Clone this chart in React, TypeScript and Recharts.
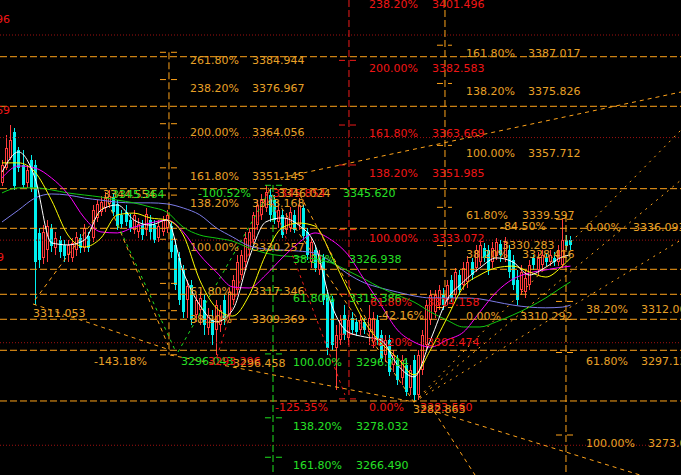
import React from "react";
import { ComposedChart, Bar, Line, XAxis, YAxis, ReferenceLine, ReferenceDot } from "recharts";

const W = 681;
const H = 475;
const X_DOMAIN: [number, number] = [-0.485, 164.81];
const Y_DOMAIN: [number, number] = [3261.3, 3400.24];

// ---------- candle data (price) ----------
const opens = [
  3346.7, 3351.1, 3354.0, 3361.6, 3356.4, 3352.0, 3346.7, 3353.4, 3352.0, 3332.1,
  3324.8, 3327.1, 3333.6, 3327.7, 3330.0, 3328.6, 3325.7, 3324.8, 3327.1, 3330.6,
  3327.7, 3331.2, 3330.6, 3336.5, 3338.2, 3339.4, 3340.6, 3342.3, 3340.6, 3337.4,
  3338.2, 3335.9, 3333.0, 3332.4, 3334.4, 3333.0, 3335.9, 3334.4, 3330.6, 3332.4,
  3333.6, 3334.1, 3328.6, 3324.8, 3321.3, 3312.5, 3316.9, 3308.1, 3309.6, 3312.5,
  3304.3, 3306.6, 3303.7, 3305.2, 3312.5, 3308.1, 3312.5, 3315.4, 3319.8, 3323.6,
  3327.1, 3330.0, 3334.4, 3337.4, 3339.4, 3343.2, 3341.7, 3335.3, 3337.4, 3333.0,
  3333.6, 3337.4, 3334.4, 3339.4, 3332.4, 3323.6, 3327.1, 3321.3, 3324.8, 3314.0,
  3312.5, 3298.5, 3300.8, 3308.1, 3301.4, 3307.2, 3306.1, 3303.7, 3306.1, 3303.1,
  3300.2, 3306.6, 3302.3, 3296.4, 3300.8, 3293.5, 3294.9, 3289.7, 3293.5, 3286.8,
  3294.9, 3284.7, 3292.0, 3299.3, 3306.6, 3309.0, 3311.0, 3313.9, 3312.5, 3318.3,
  3313.9, 3319.8, 3316.9, 3317.8, 3323.6, 3321.9, 3323.6, 3327.7, 3327.1, 3323.6,
  3325.4, 3328.9, 3324.8, 3327.1, 3324.2, 3318.3, 3315.4, 3314.8, 3316.9, 3324.8,
  3321.3, 3322.7, 3324.8, 3323.6, 3324.8, 3323.6, 3322.7, 3330.0, 3330.0,
];
const highs = [
  3353.4, 3360.8, 3363.7, 3362.8, 3357.2, 3356.4, 3352.0, 3354.9, 3353.4, 3333.6,
  3334.4, 3335.9, 3334.7, 3332.4, 3331.2, 3330.0, 3330.0, 3330.6, 3332.4, 3331.8,
  3334.7, 3332.4, 3340.3, 3341.7, 3342.9, 3344.1, 3344.7, 3343.8, 3341.7, 3338.8,
  3340.3, 3337.6, 3338.8, 3336.5, 3335.9, 3339.4, 3337.4, 3335.9, 3335.9, 3337.1,
  3338.8, 3335.3, 3330.0, 3326.5, 3322.7, 3318.3, 3318.3, 3314.0, 3314.8, 3314.0,
  3310.2, 3309.6, 3312.5, 3311.0, 3314.0, 3316.0, 3319.8, 3325.7, 3327.1, 3332.4,
  3333.6, 3338.2, 3341.7, 3343.5, 3346.1, 3345.3, 3343.2, 3340.3, 3338.8, 3337.9,
  3339.7, 3338.8, 3342.3, 3340.3, 3333.6, 3330.6, 3328.6, 3327.1, 3325.9, 3315.4,
  3313.7, 3305.2, 3308.1, 3311.0, 3308.1, 3309.0, 3307.2, 3308.1, 3307.2, 3311.0,
  3309.0, 3308.1, 3303.7, 3302.3, 3302.3, 3297.9, 3296.4, 3296.4, 3294.9, 3293.5,
  3296.4, 3297.9, 3303.7, 3312.5, 3315.4, 3315.4, 3316.9, 3316.0, 3318.3, 3319.8,
  3321.9, 3321.3, 3323.6, 3325.4, 3324.8, 3328.6, 3330.0, 3329.2, 3328.6, 3329.5,
  3330.6, 3330.0, 3330.9, 3328.6, 3325.7, 3321.3, 3322.7, 3321.3, 3324.2, 3325.7,
  3326.5, 3327.1, 3325.9, 3327.1, 3326.5, 3328.6, 3336.5, 3331.5, 3331.2,
];
const lows = [
  3345.8, 3350.5, 3353.4, 3344.7, 3349.9, 3345.3, 3345.3, 3344.1, 3311.1, 3321.9,
  3323.0, 3323.6, 3326.5, 3325.7, 3324.8, 3323.6, 3323.6, 3323.6, 3325.4, 3326.2,
  3326.5, 3326.5, 3329.5, 3335.3, 3337.1, 3338.2, 3339.4, 3337.1, 3333.0, 3333.6,
  3334.1, 3332.4, 3331.8, 3330.6, 3330.0, 3331.2, 3330.0, 3329.2, 3329.5, 3331.2,
  3332.1, 3324.8, 3315.4, 3311.0, 3307.2, 3307.2, 3305.2, 3306.1, 3305.2, 3302.3,
  3302.3, 3299.3, 3296.4, 3303.1, 3305.2, 3306.6, 3311.0, 3314.0, 3318.3, 3321.9,
  3325.4, 3328.9, 3333.0, 3335.9, 3338.2, 3335.3, 3334.7, 3333.6, 3330.6, 3331.8,
  3332.4, 3332.1, 3333.0, 3330.0, 3324.2, 3321.9, 3320.7, 3319.8, 3311.0, 3296.4,
  3297.9, 3286.2, 3299.3, 3300.8, 3299.3, 3302.3, 3302.0, 3302.3, 3302.5, 3299.3,
  3298.5, 3299.3, 3294.4, 3294.4, 3290.3, 3291.4, 3287.6, 3287.6, 3284.4, 3284.7,
  3282.9, 3283.2, 3290.6, 3297.9, 3305.2, 3307.2, 3309.6, 3309.6, 3311.0, 3311.9,
  3312.5, 3313.9, 3315.4, 3316.0, 3318.3, 3320.7, 3322.4, 3323.6, 3319.8, 3321.9,
  3324.2, 3323.6, 3323.6, 3318.9, 3315.4, 3311.0, 3313.9, 3313.1, 3315.4, 3321.3,
  3319.8, 3321.3, 3322.4, 3322.4, 3322.4, 3322.4, 3321.9, 3327.1, 3327.1,
];
const closes = [
  3352.0, 3357.0, 3359.3, 3345.8, 3351.1, 3346.1, 3350.5, 3345.3, 3323.6, 3324.2,
  3332.4, 3334.1, 3328.3, 3330.6, 3326.5, 3325.4, 3328.6, 3329.2, 3330.9, 3327.7,
  3333.6, 3327.7, 3338.8, 3340.6, 3341.2, 3342.3, 3342.9, 3338.2, 3334.1, 3334.7,
  3335.3, 3333.6, 3337.4, 3334.7, 3331.5, 3337.6, 3332.4, 3330.0, 3334.1, 3335.9,
  3337.4, 3326.5, 3316.9, 3312.5, 3309.0, 3316.6, 3306.6, 3312.5, 3313.1, 3305.2,
  3308.1, 3302.3, 3311.0, 3309.6, 3307.2, 3314.8, 3318.3, 3323.6, 3325.7, 3330.6,
  3332.4, 3337.4, 3340.3, 3341.7, 3344.1, 3337.4, 3335.9, 3338.8, 3331.5, 3336.5,
  3338.2, 3333.0, 3340.3, 3331.2, 3325.7, 3329.5, 3321.9, 3325.7, 3312.5, 3298.5,
  3299.3, 3302.3, 3306.6, 3302.3, 3306.6, 3303.7, 3303.1, 3306.6, 3303.7, 3307.2,
  3307.2, 3300.8, 3295.5, 3300.8, 3291.4, 3296.4, 3289.1, 3294.9, 3285.6, 3292.0,
  3284.7, 3296.4, 3302.3, 3311.0, 3313.9, 3313.9, 3315.4, 3311.0, 3316.9, 3313.1,
  3320.7, 3315.4, 3321.9, 3323.6, 3319.8, 3327.1, 3328.6, 3324.8, 3321.3, 3327.7,
  3329.5, 3325.7, 3329.5, 3320.7, 3316.9, 3312.5, 3320.7, 3318.9, 3322.7, 3322.7,
  3324.8, 3325.7, 3323.6, 3325.7, 3323.6, 3327.1, 3330.0, 3328.3, 3328.6,
];

// ---------- moving averages, read at every 4th bar ----------
const maIdx = [0, 4, 8, 12, 16, 20, 24, 28, 32, 36, 40, 44, 48, 52, 56, 60, 64, 68, 72, 76, 80, 84, 88, 92, 96, 100, 104, 108, 112, 116, 120, 124, 128, 132, 136, 138];
const ma5 = [3349.9, 3355.8, 3348.2, 3329.2, 3328.6, 3330.0, 3338.8, 3340.3, 3335.9, 3334.4, 3335.9, 3320.7, 3311.0, 3306.1, 3309.6, 3324.8, 3335.3, 3336.5, 3334.4, 3328.6, 3311.0, 3303.1, 3301.7, 3300.8, 3293.5, 3290.0, 3300.8, 3312.5, 3317.8, 3321.9, 3324.8, 3323.6, 3319.8, 3322.1, 3325.1, 3325.7];
const ma10 = [3352.6, 3352.6, 3349.9, 3341.7, 3331.5, 3328.0, 3330.6, 3337.4, 3337.9, 3336.5, 3335.9, 3331.5, 3318.3, 3310.2, 3307.8, 3313.9, 3325.7, 3333.6, 3335.0, 3334.1, 3325.4, 3315.4, 3306.1, 3299.9, 3295.5, 3290.6, 3297.9, 3307.2, 3316.3, 3319.8, 3321.9, 3322.4, 3320.7, 3319.2, 3322.4, 3324.8];
const ma20 = [3348.2, 3351.7, 3351.1, 3348.2, 3343.5, 3336.5, 3332.4, 3332.1, 3333.8, 3335.0, 3335.9, 3332.4, 3325.7, 3320.7, 3316.3, 3316.0, 3319.8, 3324.8, 3329.2, 3332.1, 3330.0, 3325.7, 3318.3, 3311.0, 3303.7, 3300.2, 3298.7, 3300.8, 3303.1, 3309.0, 3314.8, 3318.6, 3320.4, 3321.3, 3322.1, 3322.4];
const ma30 = [3343.8, 3345.3, 3345.3, 3344.7, 3343.8, 3343.2, 3342.6, 3341.7, 3340.9, 3339.7, 3338.2, 3333.8, 3331.5, 3330.6, 3329.7, 3327.7, 3326.2, 3325.4, 3325.1, 3324.5, 3323.3, 3321.0, 3318.6, 3316.0, 3313.9, 3311.9, 3309.0, 3306.6, 3304.6, 3304.6, 3306.1, 3308.1, 3310.4, 3313.1, 3316.3, 3317.8];
const ma60 = [3335.3, 3338.8, 3342.3, 3343.5, 3343.2, 3342.3, 3341.7, 3341.1, 3340.9, 3340.9, 3340.6, 3339.4, 3337.4, 3333.6, 3330.9, 3328.3, 3327.4, 3327.1, 3326.8, 3326.2, 3323.6, 3320.1, 3317.5, 3316.0, 3314.8, 3313.7, 3313.1, 3313.1, 3313.1, 3312.8, 3311.9, 3311.0, 3310.4, 3310.2, 3310.4, 3311.0];

// ---------- annotation levels ----------
const gridPrices = [3390, 3360, 3330, 3300, 3270];
const levelPrices = [3383.65, 3369.15, 3345.05, 3333.46, 3321.47, 3314.16, 3306.85, 3297.78, 3282.95];

const fibLeftLevels = [3384.944, 3376.967, 3364.056, 3351.145, 3343.168, 3330.257, 3317.346, 3309.369, 3296.458];
const fibRedLevels = [3382.583, 3363.669, 3351.985, 3333.072, 3314.158, 3302.474, 3283.56];
const fibMidLevels = [3387.017, 3375.826, 3357.712, 3339.597, 3328.416, 3310.292];
const fibRightLevels = [3336.093, 3312.069, 3297.131, 3273.0];
const fibGreenLevels = [3346.04, 3326.938, 3315.386, 3296.714, 3278.032, 3266.49];

// [x (bar index), price, text, colour key, anchor]
const labels: [number, number, string, string, string?][] = [
  [45.63, 3384.944, "261.80%", "o"], [60.68, 3384.944, "3384.944", "o"],
  [45.63, 3376.967, "238.20%", "o"], [60.68, 3376.967, "3376.967", "o"],
  [45.63, 3364.056, "200.00%", "o"], [60.68, 3364.056, "3364.056", "o"],
  [45.63, 3351.145, "161.80%", "o"], [60.68, 3351.145, "3351.145", "o"],
  [45.63, 3343.168, "138.20%", "o"], [60.68, 3343.168, "3343.168", "o"],
  [45.63, 3330.257, "100.00%", "o"], [60.68, 3330.257, "3330.257", "o"],
  [45.63, 3317.346, "61.80%", "o"], [60.68, 3317.346, "3317.346", "o"],
  [45.63, 3309.369, "38.20%", "o"], [60.68, 3309.369, "3309.369", "o"],

  [89.08, 3401.496, "238.20%", "r"], [104.37, 3401.496, "3401.496", "r"],
  [89.08, 3382.583, "200.00%", "r"], [104.37, 3382.583, "3382.583", "r"],
  [89.08, 3363.669, "161.80%", "r"], [104.37, 3363.669, "3363.669", "r"],
  [89.08, 3351.985, "138.20%", "r"], [104.37, 3351.985, "3351.985", "r"],
  [89.08, 3333.072, "100.00%", "r"], [104.37, 3333.072, "3333.072", "r"],

  [112.62, 3387.017, "161.80%", "o"], [127.67, 3387.017, "3387.017", "o"],
  [112.62, 3375.826, "138.20%", "o"], [127.67, 3375.826, "3375.826", "o"],
  [112.62, 3357.712, "100.00%", "o"], [127.67, 3357.712, "3357.712", "o"],
  [112.62, 3339.597, "61.80%", "o"], [126.21, 3339.597, "3339.597", "o"],
  [120.87, 3336.39, "-84.50%", "o"],
  [141.75, 3336.093, "0.00%", "o"], [153.16, 3336.093, "3336.093", "o"],
  [121.36, 3330.83, "3330.283", "o"],
  [112.62, 3328.416, "38.20%", "o"], [126.21, 3328.416, "3328.416", "o"],
  [125.73, 3310.292, "3310.292", "o"], [112.62, 3310.292, "0.00%", "o"],
  [141.75, 3312.069, "38.20%", "o"], [155.1, 3312.069, "3312.069", "o"],
  [141.75, 3297.131, "61.80%", "o"], [155.1, 3297.131, "3297.131", "o"],
  [141.75, 3273.0, "100.00%", "o"], [156.8, 3273.0, "3273.044", "o"],

  [24.51, 3345.75, "3344.554", "o"], [26.7, 3345.75, "3345.364", "g"],
  [47.57, 3346.04, "-100.52%", "g"],
  [65.78, 3346.04, "3345.854", "r"], [67.0, 3346.04, "3346.024", "o"],
  [82.77, 3346.04, "3345.620", "g"],
  [70.63, 3326.938, "38.20%", "g"], [84.22, 3326.938, "3326.938", "g"],
  [70.63, 3315.386, "61.80%", "g"], [84.22, 3315.386, "3315.386", "g"],
  [89.32, 3314.158, "61.80%", "r"], [103.16, 3314.158, "3314.158", "r"],
  [91.26, 3310.36, "-42.16%", "o"],
  [89.32, 3302.474, "38.20%", "r"], [103.16, 3302.474, "3302.474", "r"],
  [7.52, 3311.053, "3311.053", "o"],
  [22.33, 3296.9, "-143.18%", "o"],
  [43.45, 3296.9, "3296.043", "g"], [50.0, 3296.9, "3293.296", "r"], [56.07, 3296.458, "3296.458", "o"],
  [70.63, 3296.714, "100.00%", "g"], [85.92, 3296.714, "3296.714", "g"],
  [66.26, 3283.56, "-125.35%", "r"], [89.08, 3283.56, "0.00%", "r"],
  [101.46, 3283.56, "3283.560", "r"], [99.76, 3282.863, "3282.863", "o"],
  [70.63, 3278.032, "138.20%", "g"], [85.92, 3278.032, "3278.032", "g"],
  [70.63, 3266.49, "161.80%", "g"], [85.92, 3266.49, "3266.490", "g"],

  [1.94, 3396.93, "3396.996", "r", "end"],
  [1.94, 3370.32, "3370.369", "r", "end"],
  [0.49, 3327.32, "3327.329", "r", "end"],
];

// dashed guide segments: [x1, p1, x2, p2]
const orangeSegs: [number, number, number, number][] = [
  [7.52, 3311.32, 40.78, 3297.86],
  [40.78, 3296.4, 100.0, 3282.65],
  [100.0, 3281.78, 154.85, 3261.3],
  [103.88, 3281.78, 114.81, 3261.3],
  [67.48, 3348.18, 164.81, 3373.33],
  [8.01, 3312.49, 25.0, 3340.28],
  [25.0, 3343.2, 40.29, 3299.33],
  [64.56, 3345.25, 100.0, 3282.65],
  [72.33, 3343.2, 91.75, 3299.33],
];
const orangeFans: [number, number, number, number][] = [
  [100.0, 3282.65, 164.81, 3362.22],
  [100.0, 3282.65, 164.81, 3347.59],
  [100.0, 3282.65, 164.81, 3330.04],
];
const greenSegs: [number, number, number, number][] = [
  [28.16, 3334.43, 41.99, 3297.86],
  [42.72, 3297.28, 65.05, 3344.67],
];
const redSegs: [number, number, number, number][] = [
  [52.18, 3295.82, 64.56, 3344.67],
  [64.56, 3344.67, 83.25, 3284.7],
];
// verticals: [x, p1, p2, colour]
const verticals: [number, number, number, string][] = [
  [40.53, 3384.944, 3296.458, "o"],
  [84.22, 3400.24, 3284.7, "r"],
  [107.52, 3400.24, 3310.292, "o"],
  [136.89, 3337.35, 3261.3, "o"],
  [65.78, 3346.13, 3261.3, "g"],
];
// short ticks: [xFrom, xTo, levels, colour]
const tickSets: [number, number, number[], string][] = [
  [38.35, 42.48, fibLeftLevels, "o"],
  [81.8, 86.17, fibRedLevels, "r"],
  [105.58, 109.22, fibMidLevels, "o"],
  [134.47, 139.08, fibRightLevels, "o"],
  [63.83, 67.96, fibGreenLevels, "g"],
];

const LINE_COL: Record<string, string> = { o: "#ffa31a", r: "#ee1a1a", g: "#1ee01e" };
const TEXT_COL: Record<string, string> = { o: "#e8a127", r: "#f01616", g: "#26e026" };
const UP = "#ff3c3c";
const DOWN = "#00f0f0";
const FONT = "'DejaVu Sans', Verdana, sans-serif";

const rows: any[] = opens.map((o, i) => ({
  i,
  open: o,
  high: highs[i],
  low: lows[i],
  close: closes[i],
  range: [lows[i], highs[i]],
}));
maIdx.forEach((idx, k) => {
  rows[idx].ma5 = ma5[k];
  rows[idx].ma10 = ma10[k];
  rows[idx].ma20 = ma20[k];
  rows[idx].ma30 = ma30[k];
  rows[idx].ma60 = ma60[k];
});

function Candle(props: any) {
  const { x, y, width, height, payload } = props;
  if (!payload || x == null || y == null) return null;
  const { open, close, high, low } = payload;
  const top = Math.min(y, y + height);
  const h = Math.abs(height);
  const k = high - low > 0 ? h / (high - low) : 0;
  const yO = top + (high - open) * k;
  const yC = top + (high - close) * k;
  const bTop = Math.round(Math.min(yO, yC));
  const bBot = Math.round(Math.max(yO, yC));
  const cx = Math.round(x + width / 2 - 0.5);
  const up = close >= open;
  const color = up ? UP : DOWN;
  const wx = cx + 0.5;
  return (
    <g shapeRendering="crispEdges">
      <line x1={wx} x2={wx} y1={Math.round(top)} y2={bTop} stroke={color} strokeWidth={1} />
      <line x1={wx} x2={wx} y1={bBot} y2={Math.round(top + h)} stroke={color} strokeWidth={1} />
      {up ? (
        <rect x={cx - 0.5} y={bTop + 0.5} width={2} height={Math.max(bBot - bTop - 1, 0)} fill="#000" stroke={color} strokeWidth={1} />
      ) : (
        <rect x={cx - 1} y={bTop} width={3} height={Math.max(bBot - bTop, 1)} fill={color} />
      )}
    </g>
  );
}

const DASH = "7 3";

function MaLine(key: string, color: string) {
  return (
    <Line
      key={key}
      dataKey={key}
      stroke={color}
      strokeWidth={1}
      dot={false}
      activeDot={false}
      connectNulls
      type="monotone"
      isAnimationActive={false}
    />
  );
}

export default function App() {
  return (
    <div style={{ position: "fixed", left: 0, top: 0, width: W, height: H, background: "#000", overflow: "hidden" }}>
      <ComposedChart width={W} height={H} data={rows} margin={{ top: 0, right: 0, bottom: 0, left: 0 }}>
        <XAxis type="number" dataKey="i" domain={X_DOMAIN} hide allowDataOverflow />
        <YAxis type="number" domain={Y_DOMAIN} hide allowDataOverflow />

        {gridPrices.map((p) => (
          <ReferenceLine key={"g" + p} y={p} stroke="#9e1010" strokeDasharray="1 2" ifOverflow="visible" />
        ))}
        {levelPrices.map((p) => (
          <ReferenceLine key={"l" + p} y={p} stroke={LINE_COL.o} strokeDasharray={DASH} ifOverflow="visible" />
        ))}
        {verticals.map(([x, p1, p2, c], n) => (
          <ReferenceLine key={"v" + n} segment={[{ x, y: p1 }, { x, y: p2 }]} stroke={LINE_COL[c]} strokeDasharray={DASH} ifOverflow="visible" />
        ))}
        {tickSets.flatMap(([a, b, lv, c], n) =>
          lv.map((p) => (
            <ReferenceLine key={"t" + n + "_" + p} segment={[{ x: a, y: p }, { x: b, y: p }]} stroke={LINE_COL[c]} strokeDasharray="6 5" ifOverflow="visible" />
          ))
        )}

        <Bar dataKey="range" barSize={3} isAnimationActive={false} activeBar={false} shape={(p: any) => <Candle {...p} />} />

        {MaLine("ma60", "#7c7ce8")}
        {MaLine("ma30", "#10c810")}
        {MaLine("ma20", "#ff00ff")}
        {MaLine("ma10", "#ffff00")}
        {MaLine("ma5", "#ffffff")}

        {orangeSegs.map(([x1, p1, x2, p2], n) => (
          <ReferenceLine key={"os" + n} segment={[{ x: x1, y: p1 }, { x: x2, y: p2 }]} stroke={LINE_COL.o} strokeDasharray="4 4" ifOverflow="visible" />
        ))}
        {orangeFans.map(([x1, p1, x2, p2], n) => (
          <ReferenceLine key={"of" + n} segment={[{ x: x1, y: p1 }, { x: x2, y: p2 }]} stroke={LINE_COL.o} strokeDasharray="2 5" ifOverflow="visible" />
        ))}
        {greenSegs.map(([x1, p1, x2, p2], n) => (
          <ReferenceLine key={"gs" + n} segment={[{ x: x1, y: p1 }, { x: x2, y: p2 }]} stroke={LINE_COL.g} strokeDasharray="3 4" ifOverflow="visible" />
        ))}
        {redSegs.map(([x1, p1, x2, p2], n) => (
          <ReferenceLine key={"rs" + n} segment={[{ x: x1, y: p1 }, { x: x2, y: p2 }]} stroke={LINE_COL.r} strokeDasharray="3 4" ifOverflow="visible" />
        ))}

        {labels.map(([x, p, t, c, anchor], n) => (
          <ReferenceDot
            key={"lab" + n}
            x={x}
            y={p}
            r={0}
            ifOverflow="visible"
            shape={(pr: any) => (
              <text
                x={pr.cx}
                y={pr.cy + 12}
                fill={TEXT_COL[c]}
                fontSize={11}
                fontFamily={FONT}
                textAnchor={anchor === "end" ? "end" : "start"}
              >
                {t}
              </text>
            )}
          />
        ))}
      </ComposedChart>
    </div>
  );
}
